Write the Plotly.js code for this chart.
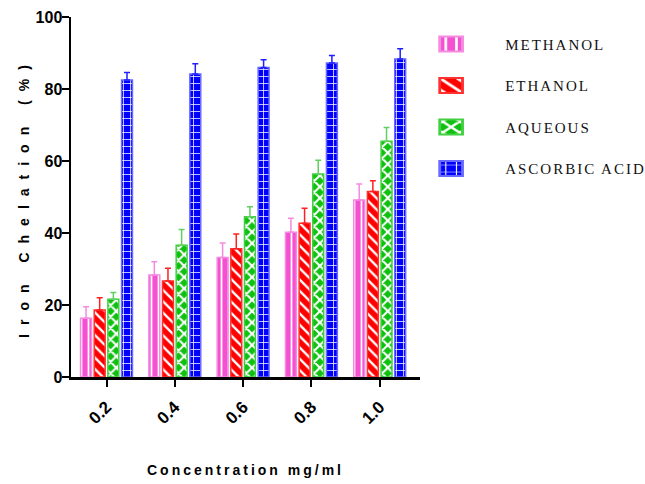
<!DOCTYPE html>
<html>
<head>
<meta charset="utf-8">
<script src="https://cdn.plot.ly/plotly-3.0.1.min.js"></script>
<style>
body{margin:0;background:#fff;}
#chart{width:645px;height:484px;}
.legendtext{letter-spacing:2px;}
.ytitle{letter-spacing:9px;}
.xtitle{letter-spacing:3px;}
.legendpoints path{transform:translate(6px,0) scale(1.9,1.25);}
.legend, .legend g, .legend .scrollbox{clip-path:none !important;}
</style>
</head>
<body>
<div id="chart"></div>
<script>
var categories = ["0.2", "0.4", "0.6", "0.8", "1.0"];
var seriesNames = ["METHANOL", "ETHANOL", "AQUEOUS", "ASCORBIC ACID"];
var methanol = [16.3, 28.3, 33.2, 40.2, 49.2];
var methanolErr = [3.2, 3.7, 4.0, 3.9, 4.4];
var ethanol = [18.6, 26.7, 35.6, 42.7, 51.5];
var ethanolErr = [3.4, 3.5, 4.1, 4.2, 3.0];
var aqueous = [21.6, 36.6, 44.5, 56.4, 65.5];
var aqueousErr = [1.9, 4.4, 2.8, 3.8, 3.8];
var ascorbic = [82.5, 84.2, 86.0, 87.2, 88.3];
var ascorbicErr = [2.1, 2.8, 2.1, 2.1, 2.9];

var values = [methanol, ethanol, aqueous, ascorbic];
var errs = [methanolErr, ethanolErr, aqueousErr, ascorbicErr];
var fills = ["#f54fd2", "#ff0000", "#10c010", "#0000ff"];
var lines = ["#f58be0", "#ff3030", "#40d040", "#6a6aff"];
var errColors = ["#f58be0", "#ff2020", "#60d060", "#2020ff"];
var shapes = ["|", "\\", "x", "+"];
var sizes = [7, 8, 8, 7];
var solids = [0.25, 0.3, 0.45, 0.2];

var data = seriesNames.map(function(name, i){
  return {
    type: "bar",
    name: name,
    legendgroup: "g" + i,
    x: categories,
    y: values[i],
    marker: {
      color: fills[i],
      line: {color: lines[i], width: 1.5},
      pattern: {shape: shapes[i], fgcolor: "#ffffff", bgcolor: fills[i], fillmode: "replace", size: sizes[i], solidity: solids[i]}
    },
    error_y: {
      type: "data", symmetric: false, array: errs[i],
      arrayminus: errs[i].map(function(){return 0;}),
      color: errColors[i], thickness: 1.5, width: 3
    }
  };
});

var layout = {
  width: 645, height: 484,
  margin: {l: 71, r: 225, t: 17, b: 107, autoexpand: false},
  paper_bgcolor: "#fff", plot_bgcolor: "#fff",
  barmode: "group", bargap: 0.2, bargroupgap: 0.2,
  showlegend: true,
  legend: {
    x: 1.072, y: 0.97, xanchor: "left", yanchor: "top",
    traceorder: "grouped", tracegroupgap: 19, itemwidth: 50,
    font: {family: "'Liberation Serif', 'Times New Roman', serif", size: 15, color: "#111"}
  },
  xaxis: {
    type: "category", range: [-0.52, 4.59],
    showline: true, linecolor: "#000", linewidth: 2.5,
    ticks: "outside", ticklen: 7, tickwidth: 2, tickcolor: "#000",
    tickangle: -45, tickfont: {family: "'Liberation Sans', Arial, sans-serif", size: 17, color: "#000"}, ticklabelstandoff: 4,
    showgrid: false, zeroline: false,
    title: {text: "<b>Concentration mg/ml</b>", font: {family: "Arial, 'Liberation Sans', sans-serif", size: 14, color: "#000"}, standoff: 38}
  },
  yaxis: {
    range: [0, 100], tickvals: [0, 20, 40, 60, 80, 100],
    ticktext: ["<b>0</b>", "<b>20</b>", "<b>40</b>", "<b>60</b>", "<b>80</b>", "<b>100</b>"],
    showline: true, linecolor: "#000", linewidth: 2.5,
    ticks: "outside", ticklen: 7, tickwidth: 2, tickcolor: "#000",
    tickfont: {family: "'Liberation Sans', Arial, sans-serif", size: 16, color: "#000"}, ticklabelstandoff: -4,
    showgrid: false, zeroline: false,
    title: {text: "<b>Iron Chelation (%)</b>", font: {family: "Arial, 'Liberation Sans', sans-serif", size: 14, color: "#000"}, standoff: 3}
  }
};

layout.xaxis.tickvals = categories;
layout.xaxis.ticktext = categories.map(function(c){return "<b>" + c + "</b>";});

Plotly.newPlot("chart", data, layout, {displayModeBar: false, staticPlot: true});
</script>
</body>
</html>
